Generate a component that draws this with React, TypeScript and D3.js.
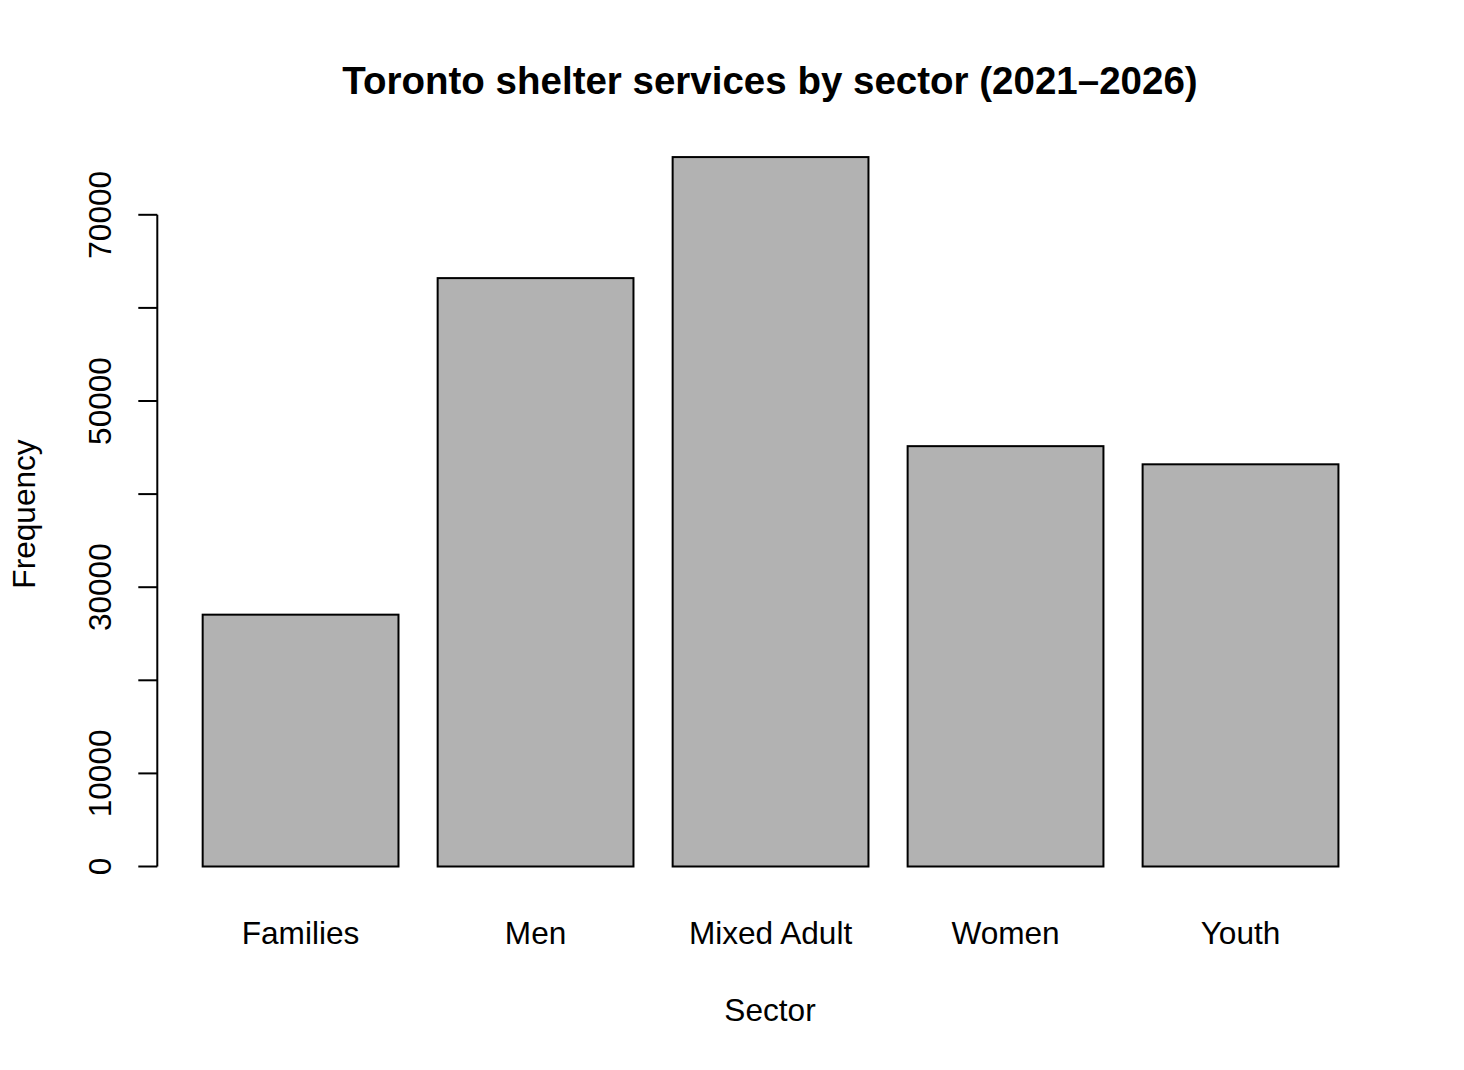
import React from "react";
import * as d3 from "d3";

const categories = ["Families", "Men", "Mixed Adult", "Women", "Youth"];
const frequencies = [27050, 63200, 76200, 45150, 43200];
const yTicks = [0, 10000, 20000, 30000, 40000, 50000, 60000, 70000];
const yTickLabels = [0, 10000, 30000, 50000, 70000];
const title = "Toronto shelter services by sector (2021\u20132026)";
const xTitle = "Sector";
const yTitle = "Frequency";

const W = 1464;
const H = 1070;
const FONT = "'Liberation Sans', Arial, Helvetica, sans-serif";

export default function App() {
  const x = d3
    .scaleBand<string>()
    .domain(categories)
    .range([163.5, 1377.6])
    .paddingInner(1 / 6)
    .paddingOuter(1 / 6);
  const y = d3.scaleLinear().domain([0, 70000]).range([866.5, 214.8]);
  const axisX = 157.3;
  const fs = 31.6;

  return (
    <div style={{ position: "absolute", left: 0, top: 0 }}>
      <svg width={W} height={H} style={{ display: "block", background: "#fff" }}>
        <rect x={0} y={0} width={W} height={H} fill="#fff" />
        <text
          x={770}
          y={94}
          textAnchor="middle"
          fontFamily={FONT}
          fontWeight="bold"
          fontSize={38.5}
          fill="#000"
        >
          {title}
        </text>
        {categories.map((c, i) => (
          <rect
            key={c}
            x={x(c)}
            y={y(frequencies[i])}
            width={x.bandwidth()}
            height={y(0) - y(frequencies[i])}
            fill="#b2b2b2"
            stroke="#000"
            strokeWidth={2}
          />
        ))}
        <line x1={axisX} x2={axisX} y1={y(0)} y2={y(70000)} stroke="#000" strokeWidth={2} />
        {yTicks.map((t) => (
          <line key={t} x1={axisX - 19} x2={axisX} y1={y(t)} y2={y(t)} stroke="#000" strokeWidth={2} />
        ))}
        {yTickLabels.map((t) => (
          <text
            key={t}
            transform={`translate(111,${y(t)}) rotate(-90)`}
            textAnchor="middle"
            fontFamily={FONT}
            fontSize={fs}
            fill="#000"
          >
            {String(t)}
          </text>
        ))}
        {categories.map((c) => (
          <text
            key={c}
            x={(x(c) as number) + x.bandwidth() / 2}
            y={944}
            textAnchor="middle"
            fontFamily={FONT}
            fontSize={fs}
            fill="#000"
          >
            {c}
          </text>
        ))}
        <text x={770} y={1021} textAnchor="middle" fontFamily={FONT} fontSize={fs} fill="#000">
          {xTitle}
        </text>
        <text
          transform={`translate(35,514) rotate(-90)`}
          textAnchor="middle"
          fontFamily={FONT}
          fontSize={fs}
          fill="#000"
        >
          {yTitle}
        </text>
      </svg>
    </div>
  );
}
